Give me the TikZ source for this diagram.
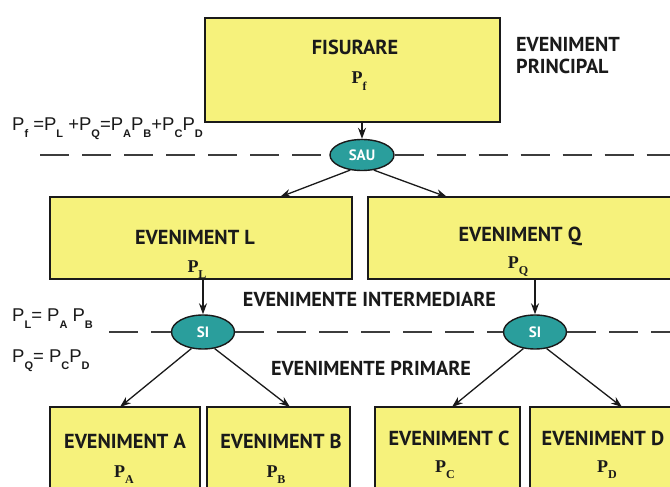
\documentclass[tikz,border=0pt]{standalone}
\usepackage{fontspec}
\newfontfamily\lab{PT Sans}
\newfontfamily\pser{Liberation Serif}
\newfontfamily\form{Liberation Sans}
\usetikzlibrary{arrows.meta,shapes.geometric}
\definecolor{boxyellow}{HTML}{F6F27C}
\definecolor{gateteal}{HTML}{2A9E9C}
\definecolor{ink}{HTML}{1A1A1A}
\newcommand\ssub[1]{\raisebox{-7pt}{\fontsize{11}{11}\selectfont\bfseries #1}}
\newcommand\psub[1]{{\pser\bfseries P\raisebox{-6.5pt}{\fontsize{12}{12}\selectfont #1}}}
\begin{document}
\begin{tikzpicture}[x=1pt,y=-1pt,
  box/.style={draw=ink, line width=2.2pt, fill=boxyellow, inner sep=0pt},
  gate/.style={ellipse, draw=ink, line width=1.4pt, fill=gateteal, inner sep=0pt,
     font=\lab\bfseries\fontsize{15}{15}\selectfont, text=white},
  title/.style={font=\lab\bfseries\fontsize{20.3}{22}\selectfont, text=ink, inner sep=0pt},
  psym/.style={font=\fontsize{18}{18}\selectfont, text=ink, inner sep=0pt, anchor=base},
  note/.style={font=\lab\bfseries\fontsize{20.2}{22}\selectfont, text=ink, inner sep=0pt},
  formula/.style={font=\form\fontsize{18.5}{21}\selectfont, text=ink, inner sep=0pt, anchor=base west},
  arr/.style={draw=ink, line width=1.3pt, -{Stealth[length=11pt,width=8pt]}},
  dash line/.style={draw=ink!85, line width=2.4pt, dash pattern=on 29pt off 13pt}
]
\useasboundingbox (0,0) rectangle (670,487);
\fill[white] (0,0) rectangle (670,487);
\clip (0,0) rectangle (670,487);

% boxes
\node[box, minimum width=295pt, minimum height=104pt] (top) at (352.5,70) {};
\node[box, minimum width=302pt, minimum height=82pt] (L) at (201,238) {};
\node[box, minimum width=310pt, minimum height=82pt] (Q) at (523,238) {};
\node[box, minimum width=150pt, minimum height=100pt] (A) at (125,457) {};
\node[box, minimum width=143pt, minimum height=100pt] (B) at (278.5,457) {};
\node[box, minimum width=145pt, minimum height=100pt] (C) at (447.5,457) {};
\node[box, minimum width=145pt, minimum height=100pt] (D) at (602.5,457) {};

% box texts
\node[title] (tTop) at (355,47) {FISURARE};
\node[psym] (pTop) at (359,84) {\psub{f}};
\node[title] (tL) at (195,237.5) {EVENIMENT L};
\node[psym] (pL) at (197,272) {\psub{L}};
\node[title] (tQ) at (520,236) {EVENIMENT Q};
\node[psym] (pQ) at (518,268) {\psub{Q}};
\node[title] (tA) at (125,441) {EVENIMENT A};
\node[psym] (pA) at (124,477) {\psub{A}};
\node[title] (tB) at (281,441) {EVENIMENT B};
\node[psym] (pB) at (276,477) {\psub{B}};
\node[title] (tC) at (449,438) {EVENIMENT C};
\node[psym] (pC) at (445,472) {\psub{C}};
\node[title] (tD) at (603,438) {EVENIMENT D};
\node[psym] (pD) at (607,472) {\psub{D}};

% side notes
\node[note, anchor=west, align=left] (princ) at (516,56) {EVENIMENT\\PRINCIPAL};
\node[note] (inter) at (369.5,299) {EVENIMENTE INTERMEDIARE};
\node[note] (prim) at (371,368) {EVENIMENTE PRIMARE};

% gates
\node[gate, minimum width=64pt, minimum height=31pt] (SAU) at (362,155) {SAU};
\node[gate, minimum width=63pt, minimum height=34pt] (SIL) at (203,332) {SI};
\node[gate, minimum width=63pt, minimum height=34pt] (SIR) at (535,332) {SI};

% dashed lines
\coordinate (d1s) at (40,155);
\coordinate (d1e) at (672,155);
\coordinate (d2s) at (109,332);
\coordinate (d2e) at (672,332);
\draw[dash line] (d1s) -- (SAU.west);
\draw[dash line] (SAU.east) -- (d1e);
\draw[dash line] (d2s) -- (SIL.west);
\draw[dash line] (SIL.east) -- (SIR.west);
\draw[dash line] (SIR.east) -- (d2e);

% formulas
\node[formula] (f1) at (12,131) {P\ssub{f} =P\ssub{L} +P\ssub{Q}=P\ssub{A}P\ssub{B}+P\ssub{C}P\ssub{D}};
\node[formula] (f2) at (12,321) {P\ssub{L}= P\ssub{A} P\ssub{B}};
\node[formula] (f3) at (12,362) {P\ssub{Q}= P\ssub{C}P\ssub{D}};

% connectors
\draw[arr] (top.south -| SAU) -- (SAU.north);
\coordinate (eL) at (280,197);
\coordinate (eQ) at (447,197);
\draw[arr] (SAU.-128) -- (eL);
\draw[arr] (SAU.-52) -- (eQ);
\draw[arr] (L.south -| SIL) -- (SIL.north);
\draw[arr] (Q.south -| SIR) -- (SIR.north);
\coordinate (eA) at (120,407);
\coordinate (eB) at (290,407);
\coordinate (eC) at (452,407);
\coordinate (eD) at (622,407);
\draw[arr] (SIL.-125) -- (eA);
\draw[arr] (SIL.-55) -- (eB);
\draw[arr] (SIR.-125) -- (eC);
\draw[arr] (SIR.-55) -- (eD);
\end{tikzpicture}
\end{document}
